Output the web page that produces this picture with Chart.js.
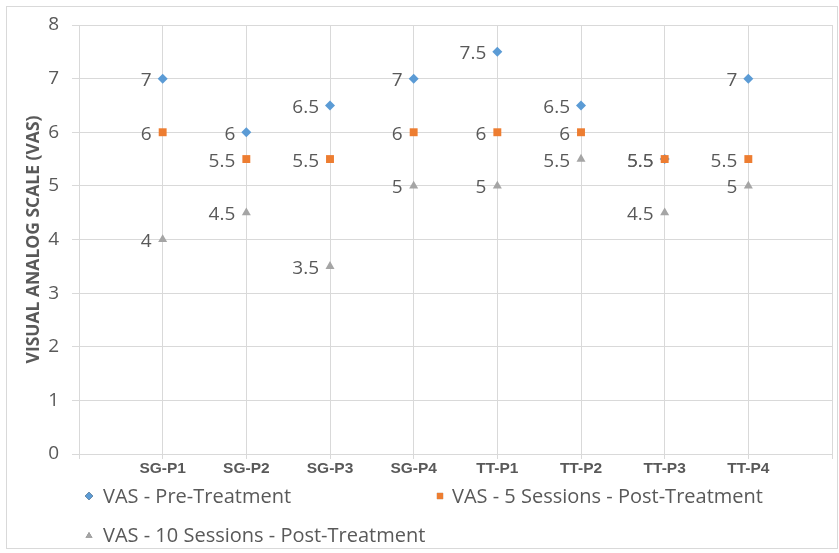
<!DOCTYPE html>
<html>
<head>
<meta charset="utf-8">
<script src="https://cdn.jsdelivr.net/npm/chart.js@4/dist/chart.umd.min.js"></script>
<style>
  html, body { margin: 0; padding: 0; background: #fff; }
  #wrap { position: relative; width: 839px; height: 553px; }
  canvas { display: block; }
</style>
</head>
<body>
<div id="wrap"><canvas id="c" width="839" height="553"></canvas></div>
<script>
const categories = ["SG-P1", "SG-P2", "SG-P3", "SG-P4", "TT-P1", "TT-P2", "TT-P3", "TT-P4"];
const preTreatment = [7, 6, 6.5, 7, 7.5, 6.5, 5.5, 7];
const post5Sessions = [6, 5.5, 5.5, 6, 6, 6, 5.5, 5.5];
const post10Sessions = [4, 4.5, 3.5, 5, 5, 5.5, 4.5, 5];
const seriesNames = ["VAS - Pre-Treatment", "VAS - 5 Sessions - Post-Treatment", "VAS - 10 Sessions - Post-Treatment"];
const yTicks = [0, 1, 2, 3, 4, 5, 6, 7, 8];
const axisTitle = "VISUAL ANALOG SCALE (VAS)";

const colors = ["#5B9BD5", "#ED7D31", "#A5A5A5"];
const shapes = ["rectRot", "rect", "triangle"];
const radii = [5, 5.6, 5.2];
const gridColor = "#d9d9d9";
const textColor = "#595959";

function toPoints(arr) { return arr.map((v, i) => ({ x: i + 1, y: v })); }
const allSeries = [preTreatment, post5Sessions, post10Sessions];

const datasets = allSeries.map((arr, k) => ({
  label: seriesNames[k],
  data: toPoints(arr),
  showLine: false,
  pointStyle: shapes[k],
  pointRadius: radii[k],
  pointHoverRadius: radii[k],
  pointBackgroundColor: colors[k],
  pointBorderColor: colors[k],
  pointBorderWidth: 0,
  backgroundColor: colors[k],
  borderColor: colors[k],
  order: 2 - k
}));

const bgPlugin = {
  id: 'bg',
  beforeDraw(chart) {
    const ctx = chart.ctx;
    ctx.save();
    ctx.fillStyle = '#fff';
    ctx.fillRect(0, 0, chart.width, chart.height);
    ctx.strokeStyle = gridColor;
    ctx.lineWidth = 1;
    ctx.strokeRect(6.5, 6.5, chart.width - 8, chart.height - 11);
    ctx.restore();
  }
};

const labelPlugin = {
  id: 'dataLabels',
  afterDatasetsDraw(chart) {
    const ctx = chart.ctx;
    ctx.save();
    ctx.font = '19px "Open Sans"';
    ctx.fillStyle = textColor;
    ctx.textAlign = 'right';
    ctx.textBaseline = 'alphabetic';
    chart.data.datasets.forEach((ds, di) => {
      const meta = chart.getDatasetMeta(di);
      meta.data.forEach((pt, i) => {
        ctx.fillText(String(ds.data[i].y), pt.x - 11, pt.y + 7.5);
      });
    });
    ctx.restore();
  }
};

const legendPlugin = {
  id: 'customLegend',
  afterDraw(chart) {
    const ctx = chart.ctx;
    const items = [
      { k: 0, mx: 89, tx: 103, by: 503 },
      { k: 1, mx: 440, tx: 452, by: 503 },
      { k: 2, mx: 89, tx: 103, by: 542 }
    ];
    ctx.save();
    items.forEach(it => {
      const cy = it.by - 7;
      Chart.helpers.drawPoint(ctx, {
        pointStyle: shapes[it.k],
        radius: it.k === 1 ? 4.4 : 4,
        borderWidth: 0,
        rotation: 0
      }, it.mx, cy + (it.k === 2 ? 1 : 0));
      ctx.fillStyle = colors[it.k];
      ctx.fill();
      ctx.font = '20px "Open Sans"';
      ctx.fillStyle = textColor;
      ctx.textAlign = 'left';
      ctx.textBaseline = 'alphabetic';
      ctx.fillText(seriesNames[it.k], it.tx, it.by);
    });
    ctx.restore();
  }
};

new Chart(document.getElementById('c'), {
  type: 'scatter',
  data: { datasets },
  plugins: [bgPlugin, labelPlugin, legendPlugin],
  options: {
    responsive: false,
    animation: false,
    events: [],
    layout: { padding: { left: 0, right: 7, top: 25, bottom: 69 } },
    plugins: { legend: { display: false }, tooltip: { enabled: false } },
    scales: {
      x: {
        type: 'linear',
        min: 0,
        max: categories.length + 1,
        afterFit(s) { s.height = 30; },
        afterBuildTicks(s) {
          const t = [];
          for (let i = 0; i <= categories.length + 1; i++) t.push({ value: i });
          s.ticks = t;
        },
        ticks: {
          autoSkip: false,
          maxRotation: 0,
          padding: 0,
          color: textColor,
          font: { family: '"Liberation Sans", Arial', size: 15.5, weight: 'bold' },
          callback: (v) => categories[v - 1] || ''
        },
        grid: { color: gridColor, lineWidth: 1, tickLength: 5, drawTicks: true },
        border: { color: gridColor }
      },
      y: {
        min: 0,
        max: 8,
        afterFit(s) { s.width = 79; },
        afterBuildTicks(s) { s.ticks = yTicks.map(v => ({ value: v })); },
        ticks: {
          padding: 13,
          color: textColor,
          font: { family: '"Open Sans"', size: 19 }
        },
        grid: { color: gridColor, lineWidth: 1, tickLength: 7 },
        border: { color: gridColor },
        title: {
          display: true,
          text: axisTitle,
          color: textColor,
          font: { family: '"Open Sans"', size: 17.5, weight: 'bold' },
          padding: { top: 23.5, bottom: 0 }
        }
      }
    }
  }
});
</script>
</body>
</html>
